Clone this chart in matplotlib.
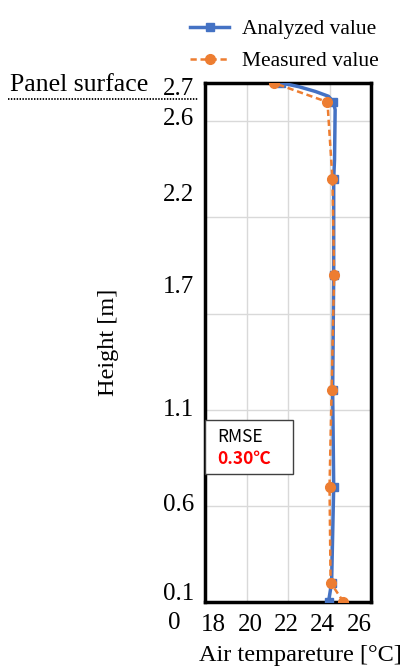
import numpy as np
import matplotlib
matplotlib.use('Agg')
import matplotlib.pyplot as plt
from matplotlib.lines import Line2D

# measurement heights [m] and values [°C]
heights = [0, 0.1, 0.6, 1.1, 1.7, 2.2, 2.6, 2.7]
measured = [24.67, 24.05, 24.0, 24.1, 24.22, 24.14, 23.9, 21.3]

# analyzed profile (incl. points near the panel)
an_heights = [0, 0.1, 0.6, 1.1, 1.7, 2.2, 2.3, 2.56, 2.6, 2.63, 2.655, 2.68, 2.7]
analyzed = [23.95, 24.1, 24.2, 24.15, 24.2, 24.2, 24.24, 24.27, 24.19, 23.95, 23.32, 22.52, 21.65]
an_marks = [0, 1, 2, 3, 4, 5, 8, 12]

# tick labels as they were typed on the original figure
ytick_labels = ['0.1', '0.6', '1.1', '1.7', '2.2', '2.6', '2.7']
ytick_pos = [0.052, 0.515, 1.009, 1.649, 2.128, 2.523, 2.68]
xtick_labels = ['18', '20', '22', '24', '26']
xtick_pos = [18.38, 20.19, 21.9, 23.67, 25.43]

blue = '#4472C4'
orange = '#ED7D31'
serif = 'Liberation Serif'
jp = ['Noto Sans CJK JP', 'DejaVu Sans']

fig = plt.figure(figsize=(4.02, 6.68), dpi=100)
ax = fig.add_axes([0.51, 0.099, 0.413, 0.777])

ax.plot(analyzed, an_heights, color=blue, lw=2.5, marker='s', ms=6,
        markevery=an_marks, label='Analyzed value', zorder=3)
ax.plot(measured, heights, color=orange, lw=1.8, ls=(0, (2.5, 1.5)), marker='o', ms=7,
        label='Measured value', zorder=4)

ax.set_xlim(18, 26)
ax.set_ylim(0, 2.7)
ax.set_xticks(xtick_pos)
ax.set_xticklabels(xtick_labels, fontfamily=serif, fontsize=18)
ax.set_xticks([20, 22, 24], minor=True)
ax.set_yticks(ytick_pos)
ax.set_yticklabels(ytick_labels, fontfamily=serif, fontsize=18)
ax.set_yticks(np.arange(0.5, 2.6, 0.5), minor=True)
ax.tick_params(axis='both', which='both', length=0)
ax.tick_params(axis='y', pad=8)
ax.tick_params(axis='x', pad=9)
ax.grid(False)
ax.yaxis.grid(True, which='minor', color='#D9D9D9', lw=1)
ax.xaxis.grid(True, which='minor', color='#D9D9D9', lw=1)
for s in ax.spines.values():
    s.set_linewidth(2.5)
    s.set_color('black')

# the "0" sits below the axis, in the row of the x labels
ax.annotate('0', xy=(0, 0), xycoords='axes fraction', xytext=(-18, -15),
            textcoords='offset points', fontfamily=serif, fontsize=18,
            ha='right', va='center')

ax.set_xlabel('Air tempareture [°C]', fontfamily=serif, fontsize=17.5)
ax.xaxis.set_label_coords(0.572, -0.083)
ax.set_ylabel('Height [m]', fontfamily=serif, fontsize=17.5)
ax.yaxis.set_label_coords(-0.52, 0.5)

# RMSE box
ax.text(0.072, 0.318, 'RMSE', transform=ax.transAxes, fontsize=12.5,
        family=jp, va='center', ha='left', zorder=6)
ax.text(0.072, 0.275, '0.30℃', transform=ax.transAxes, fontsize=12.5, color='#FF0000',
        fontweight='bold', family=jp, va='center', ha='left', zorder=6)
box = plt.Rectangle((0.0, 0.246), 0.53, 0.104, transform=ax.transAxes, facecolor='white',
                    edgecolor='#404040', lw=1, zorder=5, clip_on=False)
ax.add_patch(box)

# panel surface marker
fig.text(148 / 402, 1 - 85 / 668, 'Panel surface', fontfamily=serif, fontsize=18.5,
         ha='right', va='center')
fig.add_artist(Line2D([8 / 402, 198 / 402], [1 - 99 / 668, 1 - 99 / 668],
                      color='black', lw=1.3, ls=(0, (0.8, 0.8))))

fig.legend(loc='upper right', bbox_to_anchor=(0.99, 1.0), frameon=False,
           prop={'family': serif, 'size': 15.5}, handlelength=1.8,
           labelspacing=0.55, handletextpad=0.6)

fig.savefig('out.png', dpi=100)
